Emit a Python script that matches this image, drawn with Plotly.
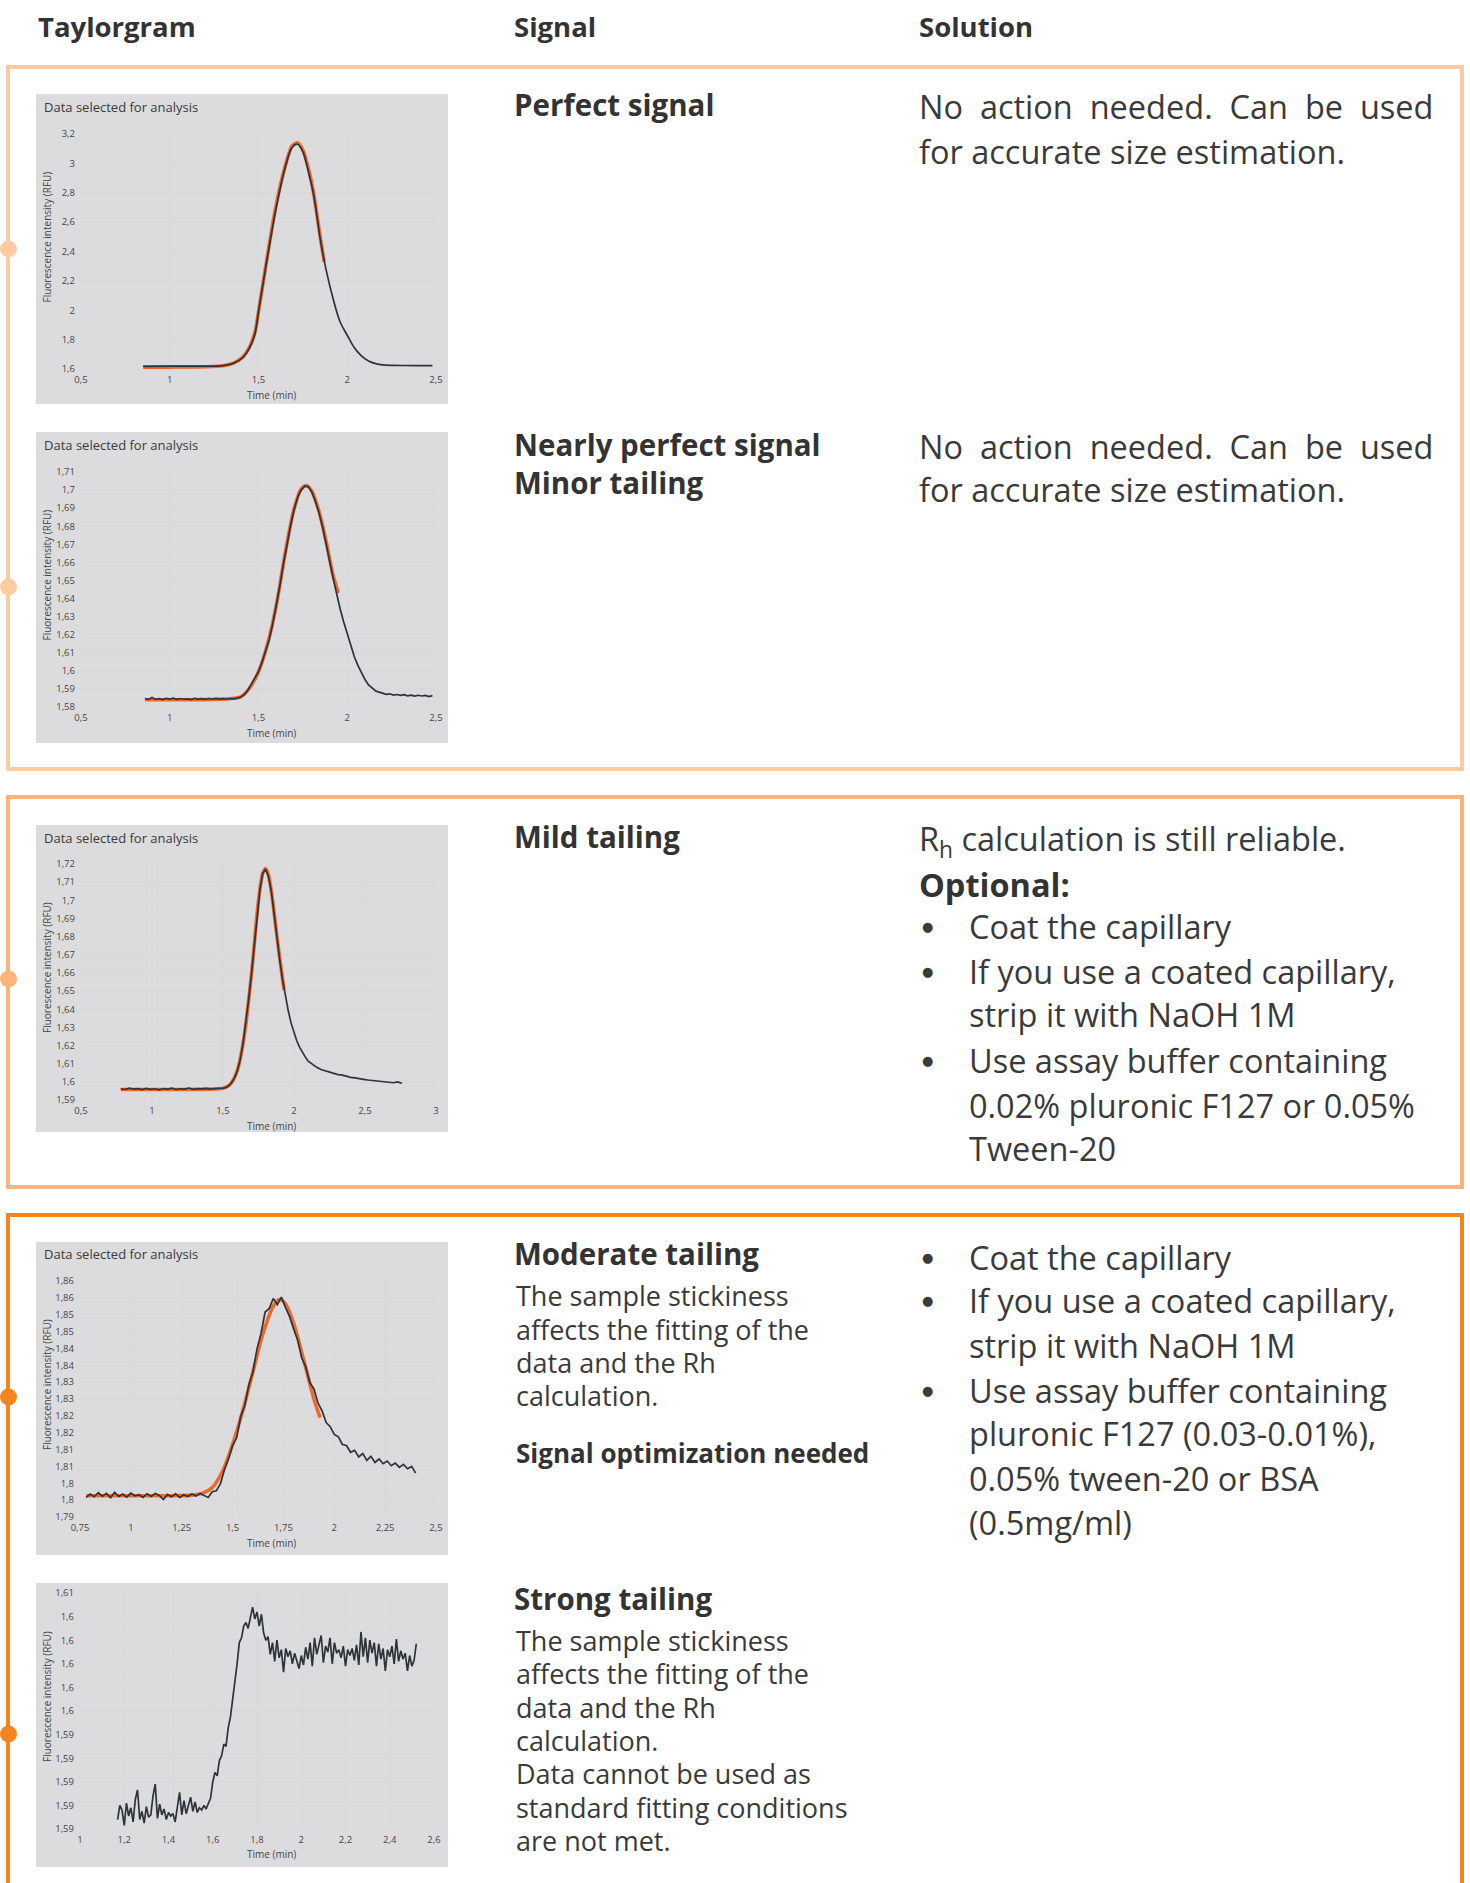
import plotly.graph_objects as go

W, H = 1470, 1883
FONT = "Open Sans"
TXT = "#3a3a3a"
HEAD = "#333333"

# ---------------- data ----------------
# Chart 1 - perfect signal
c1_time = [0.85, 1.00, 1.20, 1.30, 1.36, 1.41, 1.45, 1.48, 1.50, 1.55, 1.60, 1.65, 1.69, 1.72,
           1.75, 1.78, 1.81, 1.85, 1.88, 1.92, 1.96, 2.00, 2.04, 2.08, 2.12, 2.16, 2.20, 2.30, 2.48]
c1_signal = [1.618, 1.619, 1.620, 1.623, 1.640, 1.675, 1.745, 1.840, 1.990, 2.360, 2.700, 2.970, 3.110, 3.130,
             3.080, 2.950, 2.790, 2.470, 2.280, 2.080, 1.920, 1.830, 1.745, 1.690, 1.655, 1.637, 1.628, 1.624, 1.623]
c1_fit_time = [0.85, 1.00, 1.20, 1.30, 1.36, 1.41, 1.45, 1.48, 1.50, 1.55, 1.60, 1.65, 1.69, 1.72,
               1.75, 1.78, 1.81, 1.85, 1.87]
c1_fit = [1.613, 1.613, 1.615, 1.622, 1.640, 1.680, 1.750, 1.850, 1.990, 2.370, 2.720, 2.980, 3.120, 3.140,
          3.090, 2.970, 2.800, 2.480, 2.330]

# Chart 2 - nearly perfect signal
c2_time = [0.86, 0.88, 0.90, 0.92, 0.94, 0.96, 0.98, 1.00, 1.02, 1.04, 1.06, 1.08, 1.10, 1.12, 1.14, 1.16,
           1.18, 1.20, 1.22, 1.24, 1.26, 1.28, 1.30, 1.32, 1.34, 1.36, 1.38, 1.40, 1.42, 1.44, 1.46, 1.48,
           1.50, 1.52, 1.54, 1.56, 1.58, 1.60, 1.62, 1.64, 1.66, 1.68, 1.70, 1.72, 1.74, 1.76, 1.78, 1.80,
           1.82, 1.84, 1.86, 1.88, 1.90, 1.92, 1.94, 1.96, 1.98, 2.00, 2.02, 2.04, 2.06, 2.08, 2.10, 2.12,
           2.14, 2.16, 2.18, 2.20, 2.22, 2.24, 2.26, 2.28, 2.30, 2.32, 2.34, 2.36, 2.38, 2.40, 2.42, 2.44,
           2.46, 2.48]
c2_signal = [1.5847, 1.5842, 1.5853, 1.5843, 1.5846, 1.5841, 1.5848, 1.5844, 1.5849, 1.5842, 1.5847, 1.5843,
             1.5845, 1.5841, 1.5848, 1.5844, 1.5846, 1.5842, 1.5847, 1.5843, 1.5848, 1.5844, 1.5846, 1.5843,
             1.5847, 1.5845, 1.5849, 1.5855, 1.5868, 1.5893, 1.5928, 1.5960, 1.5995, 1.6048, 1.6108, 1.6172,
             1.6260, 1.6355, 1.6468, 1.6588, 1.6700, 1.6800, 1.6890, 1.6958, 1.7000, 1.7022, 1.7020, 1.6990,
             1.6940, 1.6878, 1.6800, 1.6712, 1.6612, 1.6515, 1.6425, 1.6342, 1.6270, 1.6202, 1.6135, 1.6078,
             1.6030, 1.5986, 1.5952, 1.5922, 1.5903, 1.5889, 1.5882, 1.5874, 1.5870, 1.5873, 1.5866, 1.5869,
             1.5864, 1.5868, 1.5862, 1.5866, 1.5860, 1.5865, 1.5861, 1.5864, 1.5858, 1.5863]
c2_fit_time = [0.86, 1.00, 1.20, 1.35, 1.40, 1.45, 1.50, 1.55, 1.60, 1.65, 1.70, 1.74, 1.77, 1.80, 1.84,
               1.88, 1.92, 1.95]
c2_fit = [1.5840, 1.5840, 1.5841, 1.5847, 1.5856, 1.5905, 1.5995, 1.6145, 1.6360, 1.6650, 1.6895, 1.7005,
          1.7025, 1.6995, 1.6885, 1.6720, 1.6530, 1.6430]

# Chart 3 - mild tailing
c3_time = [0.78, 0.81, 0.84, 0.87, 0.90, 0.93, 0.96, 0.99, 1.02, 1.05, 1.08, 1.11, 1.14, 1.17, 1.20, 1.23,
           1.26, 1.29, 1.32, 1.35, 1.38, 1.41, 1.44, 1.47,
           1.50, 1.52, 1.54, 1.56, 1.58, 1.60, 1.62, 1.64, 1.66, 1.68, 1.70, 1.72, 1.74, 1.76, 1.78, 1.80,
           1.82, 1.84, 1.86, 1.88, 1.90, 1.92, 1.94, 1.96, 1.98, 2.00, 2.02, 2.04, 2.06, 2.08, 2.10,
           2.13, 2.16, 2.19, 2.22, 2.25, 2.28, 2.31, 2.34, 2.37, 2.40, 2.43, 2.46, 2.49, 2.52, 2.55, 2.58,
           2.61, 2.64, 2.67, 2.70, 2.73, 2.76]
c3_signal = [1.5962, 1.5958, 1.5965, 1.5960, 1.5963, 1.5957, 1.5964, 1.5959, 1.5962, 1.5956, 1.5963, 1.5960,
             1.5965, 1.5958, 1.5962, 1.5960, 1.5966, 1.5959, 1.5963, 1.5961, 1.5964, 1.5960, 1.5963, 1.5962,
             1.5965, 1.5968, 1.5978, 1.5995, 1.6020, 1.6060, 1.6118, 1.6205, 1.6318, 1.6450, 1.6590, 1.6752,
             1.6918, 1.7058, 1.7148, 1.7172, 1.7132, 1.7052, 1.6925, 1.6790, 1.6668, 1.6560, 1.6468, 1.6390,
             1.6322, 1.6268, 1.6225, 1.6190, 1.6160, 1.6136, 1.6114,
             1.6095, 1.6080, 1.6068, 1.6060, 1.6052, 1.6046, 1.6040, 1.6037, 1.6030, 1.6025, 1.6022, 1.6016,
             1.6014, 1.6010, 1.6008, 1.6003, 1.6004, 1.5999, 1.6001, 1.5995, 1.6000, 1.5992]
c3_fit_time = [0.78, 1.00, 1.20, 1.40, 1.50, 1.55, 1.60, 1.65, 1.70, 1.75, 1.78, 1.80, 1.82, 1.85, 1.88,
               1.91, 1.93]
c3_fit = [1.5958, 1.5958, 1.5958, 1.5960, 1.5965, 1.5985, 1.6060, 1.6255, 1.6590, 1.7000, 1.7150, 1.7175,
          1.7140, 1.6995, 1.6800, 1.6620, 1.6506]

# Chart 4 - moderate tailing
c4_time = [0.78, 0.80, 0.82, 0.84, 0.86, 0.88, 0.90, 0.92, 0.94, 0.96, 0.98, 1.00, 1.02, 1.04, 1.06, 1.08,
           1.10, 1.12, 1.14, 1.16, 1.18, 1.20, 1.22, 1.24, 1.26, 1.28, 1.30, 1.32, 1.34, 1.36, 1.38, 1.40,
           1.42, 1.44, 1.46, 1.48, 1.50, 1.52, 1.54, 1.56, 1.58, 1.60, 1.62, 1.64, 1.66, 1.68, 1.70, 1.72,
           1.74, 1.76, 1.78, 1.80, 1.82, 1.84, 1.86, 1.88, 1.90, 1.92, 1.94, 1.96, 1.98, 2.00, 2.02, 2.04,
           2.06, 2.08, 2.10, 2.12, 2.14, 2.16, 2.18, 2.20, 2.22, 2.24, 2.26, 2.28, 2.30, 2.32, 2.34, 2.36,
           2.38, 2.40]
c4_signal = [1.7958, 1.7968, 1.7960, 1.7972, 1.7962, 1.7970, 1.7957, 1.7973, 1.7961, 1.7968, 1.7959, 1.7971,
             1.7963, 1.7966, 1.7958, 1.7969, 1.7961, 1.7970, 1.7964, 1.7952, 1.7967, 1.7960, 1.7969, 1.7958,
             1.7966, 1.7961, 1.7968, 1.7962, 1.7970, 1.7965, 1.7958, 1.7975, 1.7978, 1.7998, 1.8040, 1.8072,
             1.8112, 1.8135, 1.8198, 1.8230, 1.8292, 1.8330, 1.8398, 1.8445, 1.8508, 1.8518, 1.8548, 1.8530,
             1.8552, 1.8522, 1.8495, 1.8458, 1.8425, 1.8372, 1.8345, 1.8298, 1.8280, 1.8238, 1.8215, 1.8180,
             1.8168, 1.8145, 1.8138, 1.8115, 1.8112, 1.8092, 1.8098, 1.8078, 1.8088, 1.8068, 1.8080, 1.8062,
             1.8072, 1.8058, 1.8066, 1.8052, 1.8060, 1.8047, 1.8056, 1.8043, 1.8050, 1.8030]
c4_fit_time = [0.78, 1.00, 1.20, 1.30, 1.35, 1.40, 1.45, 1.50, 1.55, 1.60, 1.65, 1.70, 1.73, 1.76, 1.80,
               1.85, 1.90, 1.93]
c4_fit = [1.7963, 1.7963, 1.7963, 1.7965, 1.7970, 1.7987, 1.8035, 1.8115, 1.8215, 1.8330, 1.8445, 1.8525,
          1.8545, 1.8532, 1.8475, 1.8365, 1.8250, 1.8195]

# Chart 5 - strong tailing
c5_time = [1.17, 1.18, 1.19, 1.20, 1.21, 1.22, 1.23, 1.24, 1.25, 1.26, 1.27, 1.28, 1.29, 1.30, 1.31, 1.32,
           1.33, 1.34, 1.35, 1.36, 1.37, 1.38, 1.39, 1.40, 1.41, 1.42, 1.43, 1.44, 1.45, 1.46, 1.47, 1.48,
           1.49, 1.50, 1.51, 1.52, 1.53, 1.54, 1.55, 1.56, 1.57, 1.58, 1.59, 1.60, 1.61, 1.62, 1.63, 1.64,
           1.65, 1.66, 1.67, 1.68, 1.69, 1.70, 1.71, 1.72, 1.73, 1.74, 1.75, 1.76, 1.77, 1.78, 1.79, 1.80,
           1.81, 1.82, 1.83, 1.84, 1.85, 1.86, 1.87, 1.88, 1.89, 1.90, 1.91, 1.92, 1.93, 1.94, 1.95, 1.96,
           1.97, 1.98, 1.99, 2.00, 2.01, 2.02, 2.03, 2.04, 2.05, 2.06, 2.07, 2.08, 2.09, 2.10, 2.11, 2.12,
           2.13, 2.14, 2.15, 2.16, 2.17, 2.18, 2.19, 2.20, 2.21, 2.22, 2.23, 2.24, 2.25, 2.26, 2.27, 2.28,
           2.29, 2.30, 2.31, 2.32, 2.33, 2.34, 2.35, 2.36, 2.37, 2.38, 2.39, 2.40, 2.41, 2.42, 2.43, 2.44,
           2.45, 2.46, 2.47, 2.48, 2.49, 2.50, 2.51, 2.52]
c5_signal = [1.5908, 1.5920, 1.5916, 1.5903, 1.5922, 1.5911, 1.5918, 1.5906, 1.5925, 1.5933, 1.5908, 1.5915,
             1.5905, 1.5919, 1.5910, 1.5912, 1.5928, 1.5938, 1.5909, 1.5921, 1.5912, 1.5917, 1.5908, 1.5914,
             1.5911, 1.5913, 1.5906, 1.5920, 1.5931, 1.5912, 1.5924, 1.5913, 1.5919, 1.5927, 1.5915, 1.5923,
             1.5914, 1.5918, 1.5916, 1.5920, 1.5917, 1.5921, 1.5926, 1.5940, 1.5948, 1.5945, 1.5958, 1.5962,
             1.5972, 1.5970, 1.5986, 1.5995, 1.6010, 1.6022, 1.6040, 1.6058, 1.6062, 1.6072, 1.6075, 1.6070,
             1.6079, 1.6088, 1.6078, 1.6084, 1.6072, 1.6082, 1.6066, 1.6060, 1.6063, 1.6048, 1.6058, 1.6042,
             1.6060, 1.6045, 1.6052, 1.6033, 1.6053, 1.6046, 1.6051, 1.6040, 1.6049, 1.6043, 1.6036, 1.6047,
             1.6039, 1.6054, 1.6044, 1.6058, 1.6038, 1.6062, 1.6048, 1.6056, 1.6064, 1.6041, 1.6055, 1.6050,
             1.6062, 1.6040, 1.6058, 1.6049, 1.6052, 1.6045, 1.6055, 1.6038, 1.6052, 1.6047, 1.6053, 1.6043,
             1.6056, 1.6039, 1.6067, 1.6046, 1.6062, 1.6041, 1.6060, 1.6049, 1.6058, 1.6038, 1.6057, 1.6044,
             1.6053, 1.6034, 1.6052, 1.6046, 1.6055, 1.6040, 1.6061, 1.6042, 1.6051, 1.6044, 1.6049, 1.6034,
             1.6047, 1.6038, 1.6043, 1.6057]

# axes: ranges, tick values and labels
c1_xrange, c1_yrange = [0.5, 2.5], [1.6, 3.2]
c1_xticks = [0.5, 1.0, 1.5, 2.0, 2.5]
c1_xlabels = ["0,5", "1", "1,5", "2", "2,5"]
c1_yticks = [1.6, 1.8, 2.0, 2.2, 2.4, 2.6, 2.8, 3.0, 3.2]
c1_ylabels = ["1,6", "1,8", "2", "2,2", "2,4", "2,6", "2,8", "3", "3,2"]

c2_xrange, c2_yrange = [0.5, 2.5], [1.58, 1.71]
c2_xticks = [0.5, 1.0, 1.5, 2.0, 2.5]
c2_xlabels = ["0,5", "1", "1,5", "2", "2,5"]
c2_yticks = [1.58, 1.59, 1.60, 1.61, 1.62, 1.63, 1.64, 1.65, 1.66, 1.67, 1.68, 1.69, 1.70, 1.71]
c2_ylabels = ["1,58", "1,59", "1,6", "1,61", "1,62", "1,63", "1,64", "1,65", "1,66", "1,67", "1,68", "1,69",
              "1,7", "1,71"]

c3_xrange, c3_yrange = [0.5, 3.0], [1.59, 1.72]
c3_xticks = [0.5, 1.0, 1.5, 2.0, 2.5, 3.0]
c3_xlabels = ["0,5", "1", "1,5", "2", "2,5", "3"]
c3_yticks = [1.59, 1.60, 1.61, 1.62, 1.63, 1.64, 1.65, 1.66, 1.67, 1.68, 1.69, 1.70, 1.71, 1.72]
c3_ylabels = ["1,59", "1,6", "1,61", "1,62", "1,63", "1,64", "1,65", "1,66", "1,67", "1,68", "1,69", "1,7",
              "1,71", "1,72"]

c4_xrange, c4_yrange = [0.75, 2.5], [1.79, 1.86]
c4_xticks = [0.75, 1.0, 1.25, 1.5, 1.75, 2.0, 2.25, 2.5]
c4_xlabels = ["0,75", "1", "1,25", "1,5", "1,75", "2", "2,25", "2,5"]
c4_yticks = [1.790, 1.795, 1.800, 1.805, 1.810, 1.815, 1.820, 1.825, 1.830, 1.835, 1.840, 1.845, 1.850,
             1.855, 1.860]
c4_ylabels = ["1,79", "1,8", "1,8", "1,81", "1,81", "1,82", "1,82", "1,83", "1,83", "1,84", "1,84", "1,85",
              "1,85", "1,86", "1,86"]

c5_xrange, c5_yrange = [1.0, 2.6], [1.59, 1.61]
c5_xticks = [1.0, 1.2, 1.4, 1.6, 1.8, 2.0, 2.2, 2.4, 2.6]
c5_xlabels = ["1", "1,2", "1,4", "1,6", "1,8", "2", "2,2", "2,4", "2,6"]
c5_yticks = [1.590, 1.592, 1.594, 1.596, 1.598, 1.600, 1.602, 1.604, 1.606, 1.608, 1.610]
c5_ylabels = ["1,59", "1,59", "1,59", "1,59", "1,59", "1,6", "1,6", "1,6", "1,6", "1,6", "1,61"]

# ---------------- layout helpers ----------------
def px(x):
    return x / W


def py(y):
    return 1 - y / H


charts = [
    dict(t=c1_time, s=c1_signal, ft=c1_fit_time, f=c1_fit, xr=c1_xrange, yr=c1_yrange, xt=c1_xticks,
         xl=c1_xlabels, yt=c1_yticks, yl=c1_ylabels, box=(36, 94, 448, 404), plot=(81, 134, 436, 369),
         title_y=107, xt_y=395),
    dict(t=c2_time, s=c2_signal, ft=c2_fit_time, f=c2_fit, xr=c2_xrange, yr=c2_yrange, xt=c2_xticks,
         xl=c2_xlabels, yt=c2_yticks, yl=c2_ylabels, box=(36, 432, 448, 743), plot=(81, 472, 436, 707),
         title_y=445, xt_y=733),
    dict(t=c3_time, s=c3_signal, ft=c3_fit_time, f=c3_fit, xr=c3_xrange, yr=c3_yrange, xt=c3_xticks,
         xl=c3_xlabels, yt=c3_yticks, yl=c3_ylabels, box=(36, 825, 448, 1132), plot=(81, 864, 436, 1100),
         title_y=838, xt_y=1126),
    dict(t=c4_time, s=c4_signal, ft=c4_fit_time, f=c4_fit, xr=c4_xrange, yr=c4_yrange, xt=c4_xticks,
         xl=c4_xlabels, yt=c4_yticks, yl=c4_ylabels, box=(36, 1242, 448, 1555), plot=(80, 1281, 436, 1517),
         title_y=1254, xt_y=1543),
    dict(t=c5_time, s=c5_signal, ft=None, f=None, xr=c5_xrange, yr=c5_yrange, xt=c5_xticks,
         xl=c5_xlabels, yt=c5_yticks, yl=c5_ylabels, box=(36, 1583, 448, 1867), plot=(80, 1593, 434, 1829),
         title_y=None, xt_y=1854),
]

fig = go.Figure()
shapes = []
annotations = []
layout = {}


def text(x, y, s, size, color=TXT, anchor="left", angle=0, family=FONT):
    annotations.append(dict(xref="paper", yref="paper", x=px(x), y=py(y), text=s, showarrow=False,
                            xanchor=anchor, yanchor="middle", textangle=angle,
                            font=dict(family=family, size=size, color=color)))


BLACK = "#2d333b"
ORANGE = "#ec6a2d"
TICKF = dict(family=FONT, size=9.5, color="#454545")

for i, c in enumerate(charts):
    sfx = "" if i == 0 else str(i + 1)
    x0, y0, x1, y1 = c["plot"]
    layout["xaxis" + sfx] = dict(domain=[px(x0), px(x1)], anchor="y" + sfx, range=c["xr"],
                                 tickmode="array", tickvals=c["xt"], ticktext=c["xl"], showgrid=True,
                                 gridcolor="#d9d9d9", gridwidth=1.5, zeroline=False, showline=False,
                                 ticks="", tickfont=TICKF, ticklabelstandoff=3, automargin=False)
    layout["yaxis" + sfx] = dict(domain=[py(y1), py(y0)], anchor="x" + sfx, range=c["yr"],
                                 tickmode="array", tickvals=c["yt"], ticktext=c["yl"], showgrid=True,
                                 gridcolor="#d9d9d9", gridwidth=1.5, zeroline=False, showline=False,
                                 ticks="", tickfont=TICKF, ticklabelstandoff=5, automargin=False)
    bx0, by0, bx1, by1 = c["box"]
    shapes.append(dict(type="rect", xref="paper", yref="paper", x0=px(bx0), x1=px(bx1), y0=py(by1),
                       y1=py(by0), fillcolor="#dcdcde", line=dict(width=0), layer="below"))
    if c["f"] is not None:
        fig.add_trace(go.Scatter(x=c["ft"], y=c["f"], mode="lines", xaxis="x" + sfx, yaxis="y" + sfx,
                                 line=dict(color=ORANGE, width=3.6, shape="spline", smoothing=0.8),
                                 hoverinfo="skip"))
    smooth = i == 0
    fig.add_trace(go.Scatter(x=c["t"], y=c["s"], mode="lines", xaxis="x" + sfx, yaxis="y" + sfx,
                             line=dict(color=BLACK, width=1.7, shape="spline" if smooth else "linear"),
                             hoverinfo="skip"))
    if c["title_y"] is not None:
        text(42, c["title_y"], "Data selected for analysis", 13, color="#3a3a3a")
    text(271, c["xt_y"], "Time (min)", 10, color="#454545", anchor="center")
    text(47, (y0 + y1) / 2 - 14, "Fluorescence intensity (RFU)", 10, color="#454545", anchor="center",
         angle=-90)

# ---------------- frame boxes & markers ----------------
PEACH = "#fdcba0"
MID = "#fdb47a"
DARK = "#f5841f"


def rect(x0, y0, x1, y1, color):
    shapes.append(dict(type="rect", xref="paper", yref="paper", x0=px(x0), x1=px(x1), y0=py(y1), y1=py(y0),
                       line=dict(color=color, width=4), fillcolor="rgba(0,0,0,0)", layer="below"))


def dot(cy, color):
    shapes.append(dict(type="circle", xref="paper", yref="paper", x0=px(0), x1=px(17), y0=py(cy + 8.5),
                       y1=py(cy - 8.5), line=dict(width=0), fillcolor=color, layer="above"))


rect(8, 67, 1462, 769, PEACH)
rect(8, 797, 1462, 1187, MID)
rect(8, 1215, 1462, 1940, DARK)
dot(249, PEACH)
dot(587, PEACH)
dot(979, MID)
dot(1397, DARK)
dot(1734, DARK)

# ---------------- texts ----------------
B = 29.5   # bold headings
HD = 27.5  # column headers
S = 32.5   # solution text
D = 27     # description text
GAP = "\u00a0\u00a0"
JUST = GAP.join(["No", "action", "needed.", "Can", "be", "used"])

text(36, 27, "<b>Taylorgram</b>", HD, color=HEAD)
text(512, 27, "<b>Signal</b>", HD, color=HEAD)
text(917, 27, "<b>Solution</b>", HD, color=HEAD)

# Box 1
text(512, 105, "<b>Perfect signal</b>", B, color=HEAD)
text(917, 107, JUST, S)
text(917, 152, "for accurate size estimation.", S)
text(512, 444, "<b>Nearly perfect signal</b>", B, color=HEAD)
text(512, 482, "<b>Minor tailing</b>", B, color=HEAD)
text(917, 446, JUST, S)
text(917, 490, "for accurate size estimation.", S)

# Box 3
text(512, 837, "<b>Mild tailing</b>", B, color=HEAD)
text(917, 840, "R<sub>h</sub> calculation is still reliable.", S)
text(917, 884, "<b>Optional:</b>", S, color=HEAD)
BX, TX = 927, 967
for yy, s, bullet in [(927, "Coat the capillary", True), (972, "If you use a coated capillary,", True),
                      (1015, "strip it with NaOH 1M", False), (1060, "Use assay buffer containing", True),
                      (1105, "0.02% pluronic F127 or 0.05%", False), (1148, "Tween-20", False)]:
    if bullet:
        text(BX, yy, "\u25cf", 13, anchor="center", family="DejaVu Sans")
    text(TX, yy, s, S)

# Box 4
text(512, 1253, "<b>Moderate tailing</b>", B, color=HEAD)
for yy, s in [(1295, "The sample stickiness"), (1329, "affects the fitting of the"),
              (1362, "data and the Rh"), (1395, "calculation.")]:
    text(514, yy, s, D)
text(514, 1453, "<b>Signal optimization needed</b>", 26, color=HEAD)
for yy, s, bullet in [(1257, "Coat the capillary", True), (1300, "If you use a coated capillary,", True),
                      (1345, "strip it with NaOH 1M", False), (1390, "Use assay buffer containing", True),
                      (1433, "pluronic F127 (0.03-0.01%),", False), (1478, "0.05% tween-20 or BSA", False),
                      (1522, "(0.5mg/ml)", False)]:
    if bullet:
        text(BX, yy, "\u25cf", 13, anchor="center", family="DejaVu Sans")
    text(TX, yy, s, S)

text(512, 1598, "<b>Strong tailing</b>", B, color=HEAD)
for yy, s in [(1640, "The sample stickiness"), (1673, "affects the fitting of the"),
              (1707, "data and the Rh"), (1740, "calculation."), (1773, "Data cannot be used as"),
              (1807, "standard fitting conditions"), (1840, "are not met.")]:
    text(514, yy, s, D)

fig.update_layout(width=W, height=H, autosize=False,
                  margin=dict(l=0, r=0, t=0, b=0, pad=0, autoexpand=False), paper_bgcolor="white",
                  plot_bgcolor="#f9fafb", showlegend=False, shapes=shapes, annotations=annotations,
                  font=dict(family=FONT), **layout)

fig.write_html(
    "out.html",
    config={"displayModeBar": False, "staticPlot": True},
    post_script=("var gd=document.getElementById('{plot_id}');"
                 "gd.style.position='fixed';gd.style.left='0px';gd.style.top='0px';gd.style.margin='0px';"
                 "document.documentElement.style.margin='0px';document.documentElement.style.overflow='hidden';"
                 "document.body.style.margin='0px';document.body.style.padding='0px';"
                 "document.body.style.overflow='hidden';"),
)
